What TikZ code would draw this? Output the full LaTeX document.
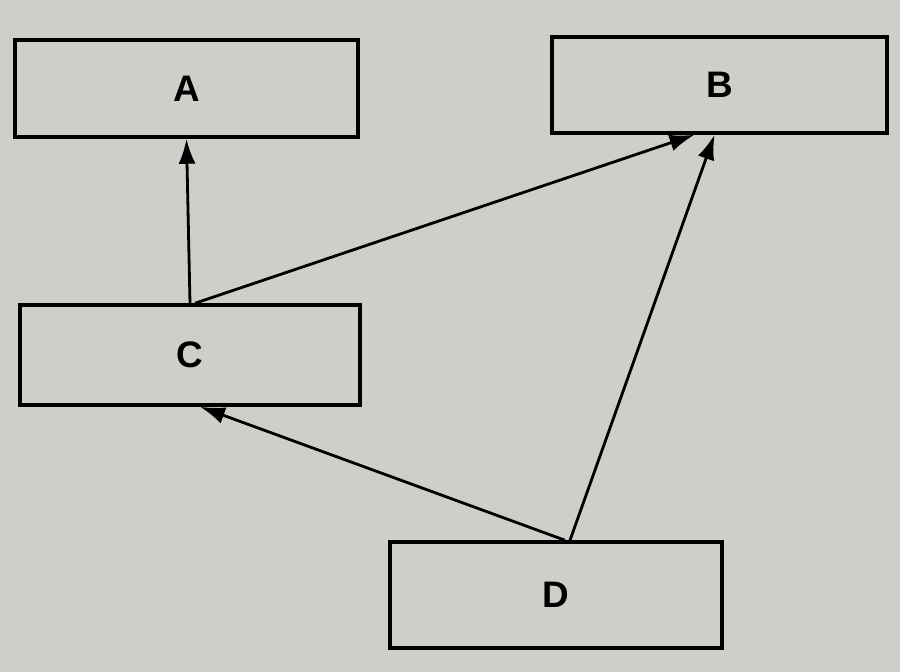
\documentclass[tikz,border=0pt]{standalone}
\usepackage{fontspec}
\setmainfont{Liberation Sans}
\usetikzlibrary{arrows.meta}
\usetikzlibrary{positioning}
\definecolor{paper}{RGB}{208,206,201}
\begin{document}
\begin{tikzpicture}[x=0.02cm,y=-0.02cm,
  every node/.style={draw,line width=2pt,font=\fontsize{21}{25}\selectfont\bfseries},
  link/.style={line width=1.6pt,-{Latex[length=5mm,width=3.4mm]}}]
  \fill[paper] (0,0) rectangle (900,672);
  \useasboundingbox (0,0) rectangle (900,672);
  \node[minimum width=6.86cm,minimum height=1.94cm] (A) at (186.5,88.5) {A};
  \node[minimum width=6.70cm,minimum height=1.92cm] (B) at (719.5,85) {B};
  \node[minimum width=6.80cm,minimum height=2.00cm] (C) at (190,355) {C};
  \node[minimum width=6.64cm,minimum height=2.12cm] (D) at (556,595) {D};

  \draw[link](C.north)--(A.south);
  \draw[link]([xshift=0.1cm]C.north)--([xshift=-0.5cm]B.south);
  \draw[link]([xshift=0.28cm]D.north)--([xshift=-0.1cm]B.south);
  \draw[link]([xshift=0.18cm]D.north)--([xshift=0.2cm]C.south);
\end{tikzpicture}
\end{document}
